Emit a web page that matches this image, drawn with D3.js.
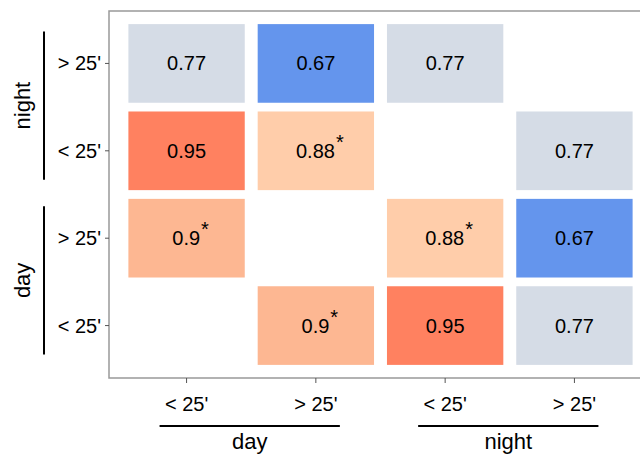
<!DOCTYPE html>
<html>
<head>
<meta charset="utf-8">
<script src="https://cdn.jsdelivr.net/npm/d3@7"></script>
<style>
  body { margin: 0; background: #fff; }
  text { font-family: "Liberation Sans", Arial, Helvetica, sans-serif; }
</style>
</head>
<body>
<script>
// columns (left to right) and rows (top to bottom)
const cols = ["day<", "day>", "night<", "night>"];
const rows = ["night>", "night<", "day>", "day<"];
const tickNames = { "day<": "< 25'", "day>": "> 25'", "night<": "< 25'", "night>": "> 25'" };

// values per row, null = empty cell
const rowNightGt = [0.77, 0.67, 0.77, null];
const rowNightLt = [0.95, 0.88, null, 0.77];
const rowDayGt   = [0.9, null, 0.88, 0.67];
const rowDayLt   = [null, 0.9, 0.95, 0.77];
// significance marks
const starNightGt = [false, false, false, false];
const starNightLt = [false, true, false, false];
const starDayGt   = [true, false, true, false];
const starDayLt   = [false, true, false, false];

const colorVals = [0.67, 0.77, 0.88, 0.9, 0.95];
const colorList = ["#6495ed", "#d5dce6", "#ffcdaa", "#fdb792", "#ff8160"];

const groups = [
  { name: "day", keys: ["day<", "day>"] },
  { name: "night", keys: ["night<", "night>"] }
];

const values = [rowNightGt, rowNightLt, rowDayGt, rowDayLt];
const stars = [starNightGt, starNightLt, starDayGt, starDayLt];

let cells = [];
rows.forEach((r, i) => {
  cols.forEach((c, j) => {
    if (values[i][j] != null) cells.push({ row: r, col: c, v: values[i][j], star: stars[i][j] });
  });
});

const W = 640, H = 455;
const pLeft = 109, pTop = 11, pRight = 652, pBottom = 378;

let svg = d3.select("body").append("svg")
  .attr("width", W).attr("height", H);

let x = d3.scaleBand().domain(cols).range([pLeft, pRight])
  .paddingInner(0.1).paddingOuter(0.15);
let y = d3.scaleBand().domain(rows).range([pTop, pBottom])
  .paddingInner(0.1).paddingOuter(0.15);
let color = d3.scaleLinear().domain(colorVals).range(colorList);

// panel border
svg.append("rect")
  .attr("x", pLeft).attr("y", pTop)
  .attr("width", pRight - pLeft).attr("height", pBottom - pTop)
  .attr("fill", "none").attr("stroke", "#999").attr("stroke-width", 1.5);

// cells
let cell = svg.append("g").selectAll("g").data(cells).enter().append("g");

cell.append("rect")
  .attr("x", d => x(d.col)).attr("y", d => y(d.row))
  .attr("width", x.bandwidth()).attr("height", y.bandwidth())
  .attr("fill", d => color(d.v));

let lbl = cell.append("text")
  .attr("x", d => x(d.col) + x.bandwidth() / 2 + (d.star ? 4 : 0))
  .attr("y", d => y(d.row) + y.bandwidth() / 2 + 7)
  .attr("text-anchor", "middle")
  .attr("font-size", 20)
  .attr("fill", "#000");
lbl.append("tspan").text(d => String(d.v));
lbl.filter(d => d.star).append("tspan")
  .attr("dy", -9).attr("dx", 1).attr("font-size", 20).text("*");

// bottom axis
let xAxis = d3.axisBottom(x).tickSize(5).tickSizeOuter(0).tickFormat(d => tickNames[d]);
let gx = svg.append("g").attr("transform", `translate(0,${pBottom})`).call(xAxis);
gx.select(".domain").remove();
gx.selectAll(".tick line").attr("stroke", "#555");
gx.selectAll(".tick text")
  .attr("font-size", 20).attr("fill", "#000")
  .attr("font-family", "Liberation Sans, Arial, sans-serif")
  .attr("dy", 0).attr("y", 33);

// left axis
let yAxis = d3.axisLeft(y).tickSize(4).tickSizeOuter(0).tickFormat(d => tickNames[d]);
let gy = svg.append("g").attr("transform", `translate(${pLeft},0)`).call(yAxis);
gy.select(".domain").remove();
gy.selectAll(".tick line").attr("stroke", "#555");
gy.selectAll(".tick text")
  .attr("font-size", 20).attr("fill", "#000")
  .attr("font-family", "Liberation Sans, Arial, sans-serif")
  .attr("x", -8).attr("dy", "0.35em");

// group brackets, bottom
groups.forEach(g => {
  let x0 = x(g.keys[0]) + x.bandwidth() / 2 - 27;
  let x1 = x(g.keys[1]) + x.bandwidth() / 2 + 24;
  svg.append("line")
    .attr("x1", x0).attr("x2", x1).attr("y1", 426).attr("y2", 426)
    .attr("stroke", "#000").attr("stroke-width", 2);
  svg.append("text")
    .attr("x", (x0 + x1) / 2).attr("y", 449)
    .attr("text-anchor", "middle").attr("font-size", 22)
    .text(g.name);
});

// group brackets, left
groups.forEach(g => {
  let ks = rows.filter(r => g.keys.includes(r));
  let y0 = y(ks[0]) + y.bandwidth() / 2 - 32;
  let y1 = y(ks[1]) + y.bandwidth() / 2 + 29;
  svg.append("line")
    .attr("x1", 44).attr("x2", 44).attr("y1", y0).attr("y2", y1)
    .attr("stroke", "#000").attr("stroke-width", 2);
  svg.append("text")
    .attr("transform", `translate(30,${(y0 + y1) / 2}) rotate(-90)`)
    .attr("text-anchor", "middle").attr("font-size", 22)
    .text(g.name);
});
</script>
</body>
</html>
